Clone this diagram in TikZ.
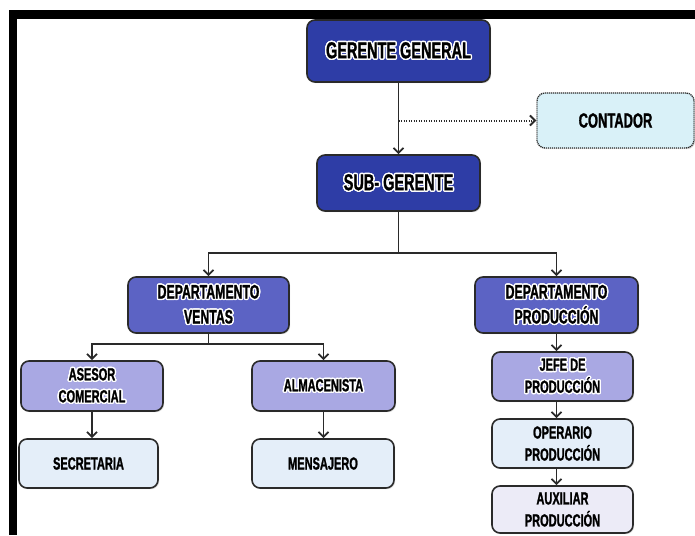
\documentclass[tikz,border=0pt]{standalone}
\usepackage{fontspec}
\newfontfamily\cond{Liberation Sans}[FakeStretch=0.63, BoldFeatures={FakeBold=1.2}]
\usepackage{contour}
\contourlength{1.4pt}
\usetikzlibrary{arrows.meta,shadows}
\definecolor{navy}{HTML}{2E3DA6}
\definecolor{dept}{HTML}{5C63C4}
\definecolor{lilac}{HTML}{A9A8E3}
\definecolor{pale}{HTML}{E4EEF9}
\definecolor{lav}{HTML}{ECEBF7}
\definecolor{cyanp}{HTML}{D9F1F8}
\definecolor{edge}{HTML}{2A2A2A}
\newcommand\wc[1]{\contour{white}{#1}}
\begin{document}
\begin{tikzpicture}[x=1pt,y=-1pt,
  box/.style={draw=edge, line width=1.6pt, rounded corners=8pt, align=center,
    inner sep=0pt, text=black,
    drop shadow={opacity=0.25, shadow xshift=1.2pt, shadow yshift=-1.2pt}},
  big/.style={box, font=\cond\bfseries\fontsize{23}{26}\selectfont},
  mid/.style={box, font=\cond\bfseries\fontsize{19.5}{25}\selectfont},
  small/.style={box, font=\cond\bfseries\fontsize{17.5}{22}\selectfont},
  conn/.style={draw=edge, line width=1.8pt},
  arr/.style={-{Straight Barb[length=5pt,width=10pt]}},
  dots/.style={draw=edge, line width=2pt, dash pattern=on 1.4pt off 1.1pt}
]
\useasboundingbox (0,0) rectangle (695,535);
\fill[black] (9,10) rectangle (695,19);
\fill[black] (9,10) rectangle (17,535);

\node[big, fill=navy, minimum width=183pt, minimum height=62pt] (gg) at (398.5,51) {\wc{GERENTE GENERAL}};
\node[big, fill=navy, minimum width=163pt, minimum height=56pt] (sub) at (398.5,183) {\wc{SUB- GERENTE}};
\node[box, font=\cond\bfseries\fontsize{20.5}{24}\selectfont, fill=cyanp, dash pattern=on 1.2pt off 0.8pt, line width=1.3pt,
  minimum width=157pt, minimum height=55pt] (cont) at (615.5,120.5) {CONTADOR};

\node[mid, fill=dept, minimum width=161pt, minimum height=56pt] (dv) at (208.5,305) {\wc{DEPARTAMENTO}\\\wc{VENTAS}};
\node[mid, fill=dept, minimum width=163pt, minimum height=56pt] (dp) at (556.5,305) {\wc{DEPARTAMENTO}\\\wc{PRODUCCIÓN}};

\node[small, fill=lilac, minimum width=142pt, minimum height=50pt] (ase) at (92,386) {\wc{ASESOR}\\\wc{COMERCIAL}};
\node[small, fill=lilac, minimum width=143pt, minimum height=50pt] (alm) at (323.5,386) {\wc{ALMACENISTA}};
\node[small, fill=pale, minimum width=139pt, minimum height=49pt] (sec) at (88.5,463.5) {SECRETARIA};
\node[small, fill=pale, minimum width=142pt, minimum height=49pt] (men) at (323,463.5) {MENSAJERO};

\node[small, fill=lilac, minimum width=141pt, minimum height=49pt] (jefe) at (562.5,376.5) {\wc{JEFE DE}\\\wc{PRODUCCIÓN}};
\node[small, fill=pale, minimum width=141pt, minimum height=49pt] (oper) at (562.5,443.5) {OPERARIO\\PRODUCCIÓN};
\node[small, fill=lav, minimum width=141pt, minimum height=47pt] (aux) at (562.5,509.5) {AUXILIAR\\PRODUCCIÓN};

\draw[conn,arr] (gg.south) -- (sub.north);
\draw[dots,arr] (gg.south |- cont.west) -- (cont.west);
\path (sub.south) ++(0,41) coordinate (j1);
\draw[conn] (sub.south) -- (j1);
\draw[conn,arr] (j1) -| (dv.north);
\draw[conn,arr] (j1) -| (dp.north);
\path (dv.south) ++(0,10) coordinate (j2);
\draw[conn] (dv.south) -- (j2);
\draw[conn,arr] (j2) -| (ase.north);
\draw[conn,arr] (j2) -| (alm.north);
\draw[conn,arr] (ase.south) -- (ase.south |- sec.north);
\draw[conn,arr] (alm.south) -- (alm.south |- men.north);
\draw[conn,arr] (dp.south) -- (dp.south |- jefe.north);
\draw[conn,arr] (dp.south |- jefe.south) -- (dp.south |- oper.north);
\draw[conn,arr] (dp.south |- oper.south) -- (dp.south |- aux.north);
\end{tikzpicture}
\end{document}
